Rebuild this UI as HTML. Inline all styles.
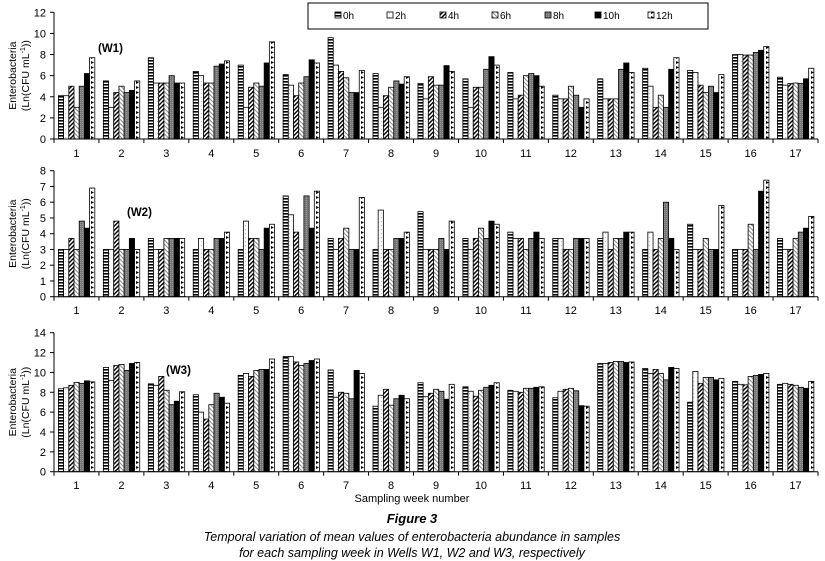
<!DOCTYPE html>
<html><head><meta charset="utf-8">
<style>
body{margin:0;background:#fff;width:825px;height:561px;overflow:hidden;font-family:"Liberation Sans",Arial,sans-serif}
svg{display:block}
text{font-family:"Liberation Sans",Arial,sans-serif}
</style></head>
<body>
<svg id="chart" width="825" height="561" viewBox="0 0 825 561" xmlns="http://www.w3.org/2000/svg">
<defs>
<pattern id="p0" width="4" height="3" patternUnits="userSpaceOnUse"><rect width="4" height="3" fill="#fff"/><rect y="0" width="4" height="1.6" fill="#000"/></pattern>
<pattern id="p1" width="4" height="4" patternUnits="userSpaceOnUse"><rect width="4" height="4" fill="#fff"/><rect x="1" y="1" width="0.8" height="0.8" fill="#999"/></pattern>
<pattern id="p2" width="3" height="3" patternUnits="userSpaceOnUse" patternTransform="rotate(45)"><rect width="3" height="3" fill="#fff"/><rect width="1.4" height="3" fill="#000"/></pattern>
<pattern id="p3" width="3" height="3" patternUnits="userSpaceOnUse" patternTransform="rotate(-45)"><rect width="3" height="3" fill="#fff"/><rect width="1" height="3" fill="#888"/></pattern>
<pattern id="p4" width="2" height="2" patternUnits="userSpaceOnUse"><rect width="2" height="2" fill="#777"/><rect width="1" height="1" fill="#999"/></pattern>
<pattern id="p5" width="4" height="4" patternUnits="userSpaceOnUse"><rect width="4" height="4" fill="#000"/></pattern>
<pattern id="p6" width="5" height="5" patternUnits="userSpaceOnUse"><rect width="5" height="5" fill="#fff"/><polygon points="1,1 4,2.5 1,4" fill="#000"/></pattern>
</defs>
<g id="legend">
<rect x="308" y="3" width="400" height="26" fill="#fff" stroke="#000" stroke-width="1"/>
</g>
<g id="panels"></g>
<text x="412" y="502" font-size="11" text-anchor="middle">Sampling week number</text>
<text x="412" y="523" font-size="13" font-weight="bold" font-style="italic" text-anchor="middle">Figure 3</text>
<text x="412" y="541" font-size="12.5" font-style="italic" text-anchor="middle">Temporal variation of mean values of enterobacteria abundance in samples</text>
<text x="412" y="557" font-size="12.5" font-style="italic" text-anchor="middle">for each sampling week in Wells W1, W2 and W3, respectively</text>
</svg>
<script>
const categories = ["1","2","3","4","5","6","7","8","9","10","11","12","13","14","15","16","17"];
const seriesNames = ["0h","2h","4h","6h","8h","10h","12h"];
const w1Values = [
[4.1,4.1,5,3,5,6.2,7.7],[5.5,3,4.4,5,4.4,4.6,5.5],[7.7,5.3,5.3,5.3,6,5.3,5.3],[6.4,6,5.3,5.3,6.9,7.1,7.4],
[7,3,4.9,5.3,5,7.2,9.2],[6.1,5.1,4.1,5.3,5.9,7.5,7.2],[9.6,7,6.4,5.8,4.4,4.4,6.5],[6.2,3,4.1,4.9,5.5,5.2,5.9],
[5.25,3.8,5.9,5.1,5.1,6.95,6.4],[5.7,3,4.9,4.9,6.6,7.8,7],[6.3,3.8,4.15,6,6.2,6,5],[4.15,3.8,3.8,5,4.15,3,3.8],
[5.7,3.8,3.8,3.8,6.6,7.2,6.3],[6.7,5,3,4.15,3,6.6,7.7],[6.5,6.3,5.1,4.4,5,4.4,6.1],[8,8,7.95,7.95,8.2,8.4,8.75],
[5.85,5.1,5.25,5.3,5.25,5.7,6.7]];
const w2Values = [
[3,3,3.7,3,4.8,4.35,6.9],[3,3,4.8,3,3,3.7,3],[3.7,3,3,3.7,3.7,3.7,3.7],[3,3.7,3,3,3.7,3.7,4.1],
[3,4.8,3.7,3.7,3,4.35,4.6],[6.4,5.2,4.1,3,6.4,4.35,6.7],[3.7,3,3.7,4.35,3,3,6.3],[3,5.5,3,3,3.7,3.7,4.1],
[5.4,3,3,3,3.7,3,4.8],[3.7,3,3.7,4.35,3.7,4.8,4.6],[4.1,3.7,3.7,3,3.7,4.1,3.7],[3.7,3.7,3,3,3.7,3.7,3.7],
[3.7,4.1,3,3.7,3.7,4.1,4.1],[3,4.1,3,3.7,6,3.7,3],[4.6,3,3,3.7,3,3,5.8],[3,3,3,4.6,3,6.7,7.4],
[3.7,3,3,3.7,4.1,4.35,5.1]];
const w3Values = [
[8.35,8.45,8.7,9,8.9,9.15,9.05],[10.5,9.2,10.7,10.8,10.2,10.9,11],[8.85,8.7,9.6,8.2,6.75,7.1,8.05],[7.75,6,5.3,6.75,7.9,7.5,6.9],
[9.7,9.9,9.6,10.2,10.3,10.3,11.35],[11.6,11.6,11.05,10.7,10.9,11.2,11.35],[10.25,7.5,8,7.9,7.35,10.2,9.9],[6.6,7.7,8.3,6.7,7.35,7.7,7.35],
[8.96,7.55,7.9,8.3,8.1,7.3,8.8],[8.55,8.1,7.6,8.2,8.5,8.7,8.96],[8.2,8.1,8,8.4,8.4,8.5,8.55],[7.45,8.1,8.3,8.4,8.15,6.65,6.6],
[10.9,10.9,11,11.1,11.1,11,11.05],[10.4,9.9,10.3,9.9,9.25,10.5,10.4],[7,10.1,8.9,9.5,9.5,9.25,9.4],[9.1,8.8,8.75,9.6,9.7,9.8,9.9],
[8.8,8.9,8.8,8.7,8.5,8.4,9.1]];
const w1Ticks = [0,2,4,6,8,10,12];
const w2Ticks = [0,1,2,3,4,5,6,7,8];
const w3Ticks = [0,2,4,6,8,10,12,14];

const NS = "http://www.w3.org/2000/svg";
function mk(tag, attrs, parent){const e=document.createElementNS(NS,tag);for(const k in attrs)e.setAttribute(k,attrs[k]);parent.appendChild(e);return e;}
const X0=54, X1=818;
const groupW=(X1-X0)/categories.length;
const barW=5.2, barOff=4.4;
function xBar(g,s){return X0+g*groupW+barOff+s*barW;}

const panels=[
 {name:"w1",vals:w1Values,ticks:w1Ticks,max:12,zero:139,top:12.3,label:"(W1)",lx:98,ly:52,catY:157},
 {name:"w2",vals:w2Values,ticks:w2Ticks,max:8,zero:296.7,top:170.7,label:"(W2)",lx:127,ly:216,catY:314},
 {name:"w3",vals:w3Values,ticks:w3Ticks,max:14,zero:471.7,top:332.7,label:"(W3)",lx:166,ly:374,catY:489}
];
const root=document.getElementById("panels");
panels.forEach(p=>{
 const g=mk("g",{},root);
 
 
 const y=v=>p.zero-(v/p.max)*(p.zero-p.top);
 const ya=mk("line",{x1:X0,x2:X0,y1:p.top,y2:p.zero,stroke:"#000","stroke-width":1},g);
 
 
 p.ticks.forEach(t=>{
  mk("line",{x1:X0-4,x2:X0,y1:y(t),y2:y(t),stroke:"#000"},g);
  const tl=mk("text",{x:X0-8,y:y(t)+4,"font-size":11,"text-anchor":"end"},g);
  tl.textContent=t;
  
  
 });
 const cy=(p.top+p.zero)/2;
 const t1=mk("text",{x:0,y:0,"font-size":10.5,"text-anchor":"middle",transform:`translate(16,${cy}) rotate(-90)`},g);
 t1.textContent="Enterobacteria";
 
 
 const t2=mk("text",{x:0,y:0,"font-size":10.5,"text-anchor":"middle",transform:`translate(29,${cy}) rotate(-90)`},g);
 t2.innerHTML='(Ln(CFU mL<tspan dy="-4" font-size="7">-1</tspan><tspan dy="4">))</tspan>';
 
 
 p.vals.forEach((row,gi)=>{
  row.forEach((v,si)=>{
   const r=mk("rect",{x:xBar(gi,si),y:y(v),width:barW,height:p.zero-y(v),fill:`url(#p${si})`,stroke:"#000","stroke-width":0.8},g);
   
   
  });
 });
 const xa=mk("line",{x1:X0,x2:X1,y1:p.zero,y2:p.zero,stroke:"#000","stroke-width":1},g);
 
 
 for(let i=0;i<=categories.length;i++){mk("line",{x1:X0+i*groupW,x2:X0+i*groupW,y1:p.zero,y2:p.zero+4,stroke:"#000"},g);}
 categories.forEach((c,i)=>{
  const cl=mk("text",{x:X0+(i+0.5)*groupW,y:p.catY,"font-size":11,"text-anchor":"middle"},g);
  cl.textContent=c;
  
  
 });
 const pl=mk("text",{x:p.lx,y:p.ly,"font-size":11.5,"font-weight":"bold"},g);
 pl.textContent=p.label;
 
 
});
const lg=document.getElementById("legend");
const lx=[335,387,440,492,545,595,648];
seriesNames.forEach((n,i)=>{
 const e=mk("g",{},lg);
 
 
 mk("rect",{x:lx[i],y:12,width:6,height:6,fill:`url(#p${i})`,stroke:"#000","stroke-width":0.8},e);
 const t=mk("text",{x:lx[i]+8,y:19,"font-size":10},e);
 t.textContent=n;
});
</script>
</body></html>
